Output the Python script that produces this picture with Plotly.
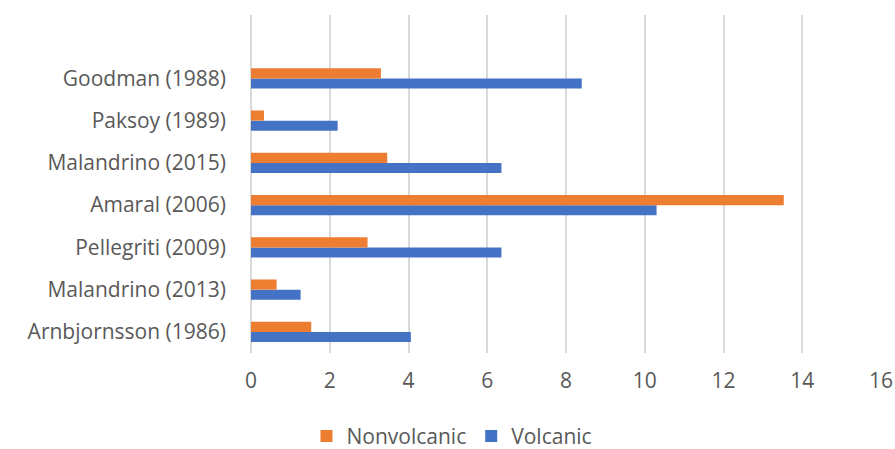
import plotly.graph_objects as go

categories = ["Goodman (1988)", "Paksoy (1989)", "Malandrino (2015)", "Amaral (2006)",
              "Pellegriti (2009)", "Malandrino (2013)", "Arnbjornsson (1986)"]
nonvolcanic = [3.3, 0.33, 3.46, 13.53, 2.96, 0.65, 1.53]
volcanic = [8.4, 2.2, 6.36, 10.3, 6.36, 1.26, 4.06]
x_ticks = [0, 2, 4, 6, 8, 10, 12, 14, 16]

TEXT = "#595959"
FONT = "Open Sans"

# plot bottom-up so the first category ends on top
cats = categories[::-1]
fig = go.Figure()
fig.add_trace(go.Bar(y=cats, x=volcanic[::-1], name="Volcanic", orientation="h",
                     marker=dict(color="#4472C4", line=dict(width=0))))
fig.add_trace(go.Bar(y=cats, x=nonvolcanic[::-1], name="Nonvolcanic", orientation="h",
                     marker=dict(color="#ED7D31", line=dict(width=0))))

fig.update_layout(
    width=895, height=449,
    margin=dict(l=251, r=14, t=15, b=96, autoexpand=False),
    paper_bgcolor="white", plot_bgcolor="white",
    barmode="group", bargap=0.52, bargroupgap=0,
    font=dict(family=FONT, size=21, color=TEXT),
    legend=dict(orientation="h", traceorder="reversed", xref="container", x=0.505,
                xanchor="center", yref="container", y=0.028, yanchor="middle",
                font=dict(size=21, color=TEXT), itemwidth=30),
    xaxis=dict(range=[0, 16], tickvals=x_ticks, showgrid=True, gridcolor="#D9D9D9",
               gridwidth=1.5, zeroline=True, zerolinecolor="#D9D9D9", zerolinewidth=1.5,
               showline=False, ticks="", ticklabelstandoff=13, automargin=False,
               fixedrange=True),
    yaxis=dict(type="category", range=[-0.5, 7.5], showgrid=False, showline=False,
               ticks="", ticklabelstandoff=24, automargin=False, fixedrange=True),
)

fig.write_html("out.html")
